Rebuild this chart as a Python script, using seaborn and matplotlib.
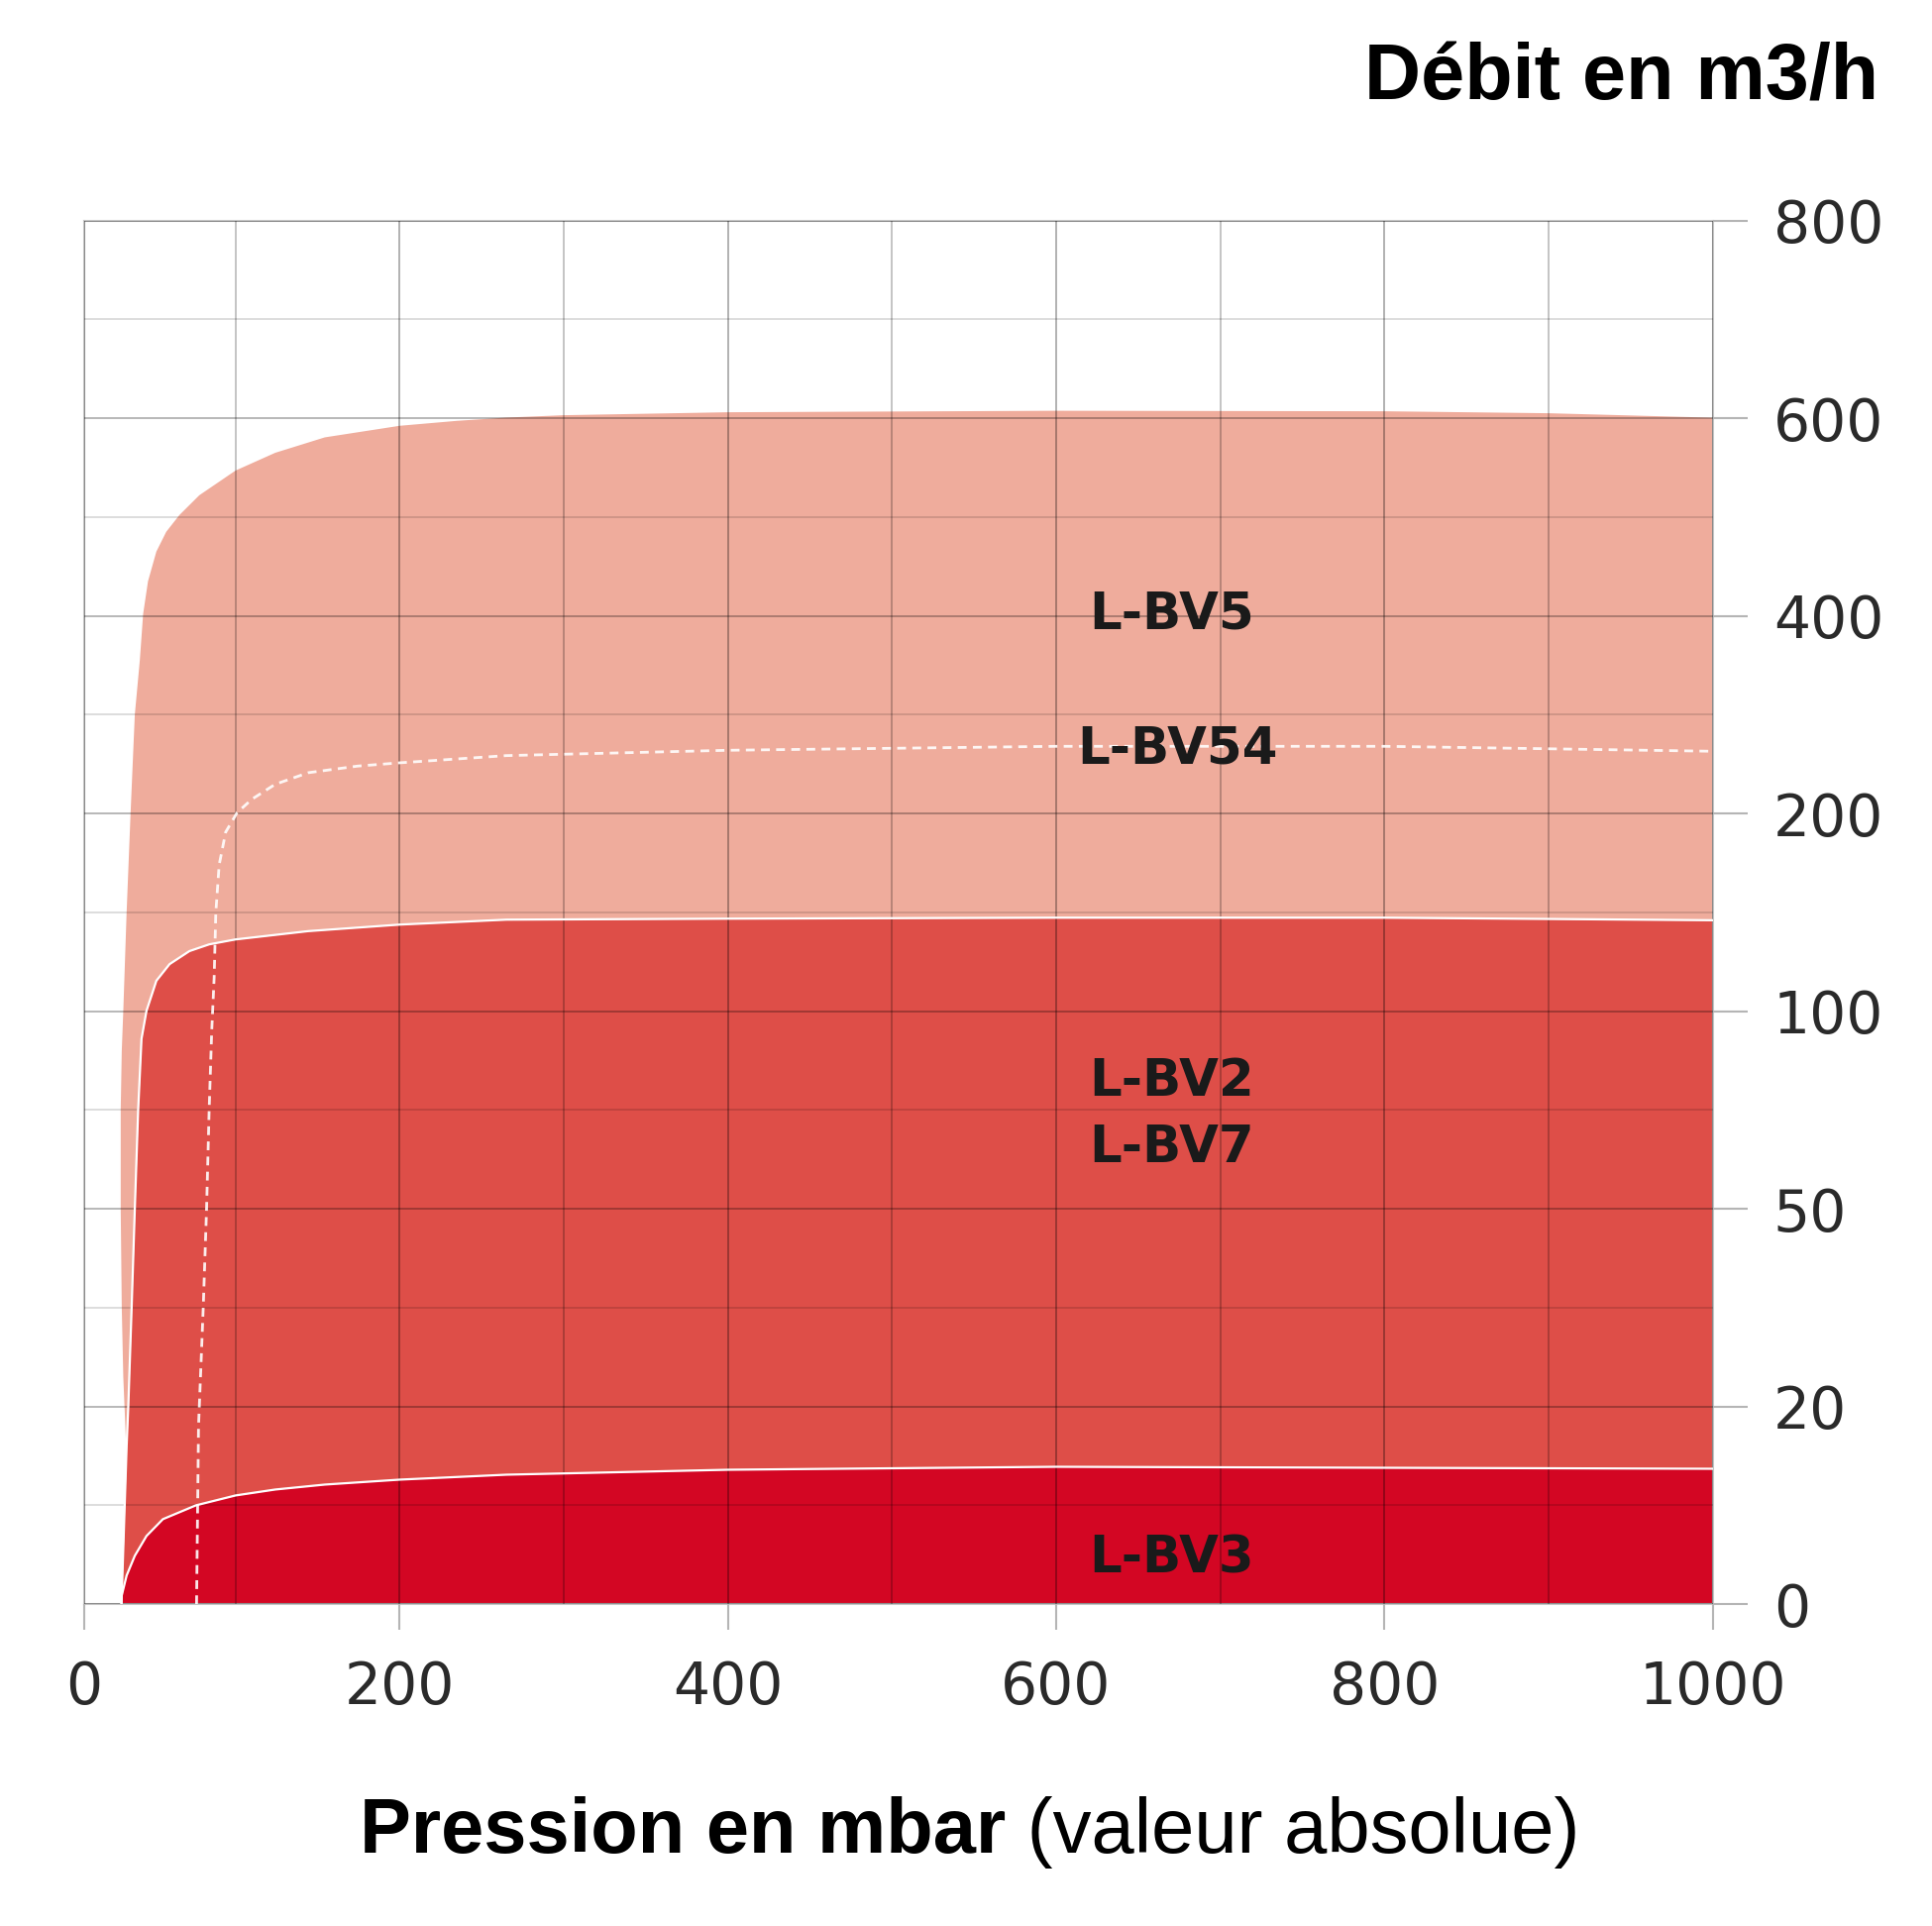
import numpy as np
import matplotlib
matplotlib.use("Agg")
import matplotlib.pyplot as plt
import seaborn as sns

# Pression (mbar) / debit (m3/h)
bv5_p = [29.5, 26.0, 25.0, 24.3, 24.3, 25.0, 26.0, 28.2, 30.8, 33.6, 36.9, 39.1, 42.3, 47.8, 54.3, 63.0,
         76.1, 100, 124.2, 154.4, 200, 234.8, 265, 300, 400, 600, 800, 900, 1000]
bv5_q = [10, 24.5, 35, 50, 75, 90, 100, 150, 200, 300, 355, 402, 435, 465, 485, 502,
         522, 547, 565, 580.6, 592.3, 597.3, 600.6, 603, 606, 607.5, 607, 605, 600.5]

bv2_p = [24.8, 28.2, 29.3, 31.5, 33.6, 35.8, 38.0, 41.3, 47.8, 56.5, 69.6, 82.6, 100, 144.3, 200, 265,
         400, 600, 800, 1000]
bv2_q = [0, 16, 20, 35, 50, 75, 93, 100.2, 115.4, 123.8, 130.4, 133.8, 136.3, 140.5, 143.8, 146.3,
         146.8, 147.3, 147.3, 146]

bv3_p = [24.8, 25.0, 28.2, 33.6, 41.3, 52.1, 73.9, 100, 124.2, 154.4, 200, 265, 400, 600, 800, 1000]
bv3_q = [0, 0.9, 2.9, 4.9, 6.9, 8.6, 10.0, 11.0, 11.6, 12.1, 12.6, 13.1, 13.6, 13.9, 13.8, 13.7]

bv54_p = [74.3, 75.6, 78.7, 80.9, 82.6, 84.3, 85.9, 87.0, 89.2, 93.5, 101, 110, 124.2, 144.3, 174.4,
          200, 265, 400, 600, 800, 1000]
bv54_q = [0, 18, 35, 50, 75, 95, 117, 150, 174, 190.6, 201, 214.5, 229.6, 241.3, 248,
          251.3, 258.6, 264, 268, 268, 263]

labels = ["L-BV5", "L-BV54", "L-BV2", "L-BV7", "L-BV3"]
label_p = [620, 613, 620, 620, 620]
label_q = [386.8, 250.8, 78.5, 61.7, 3.2]

x_ticks = [0, 200, 400, 600, 800, 1000]
y_ticks = [0, 20, 50, 100, 200, 400, 600, 800]

# echelles non lineaires du graphique
X_KNOTS = [0, 100, 1000]
X_POS = [0, 123.2, 1322.9]
Y_POS = list(range(len(y_ticks)))


def fwd_x(x):
    return np.interp(x, X_KNOTS, X_POS)


def inv_x(v):
    return np.interp(v, X_POS, X_KNOTS)


def fwd_y(y):
    return np.interp(y, y_ticks, Y_POS)


def inv_y(v):
    return np.interp(v, Y_POS, y_ticks)


sns.set_theme(style="white")
plt.rcParams["font.family"] = ["DejaVu Sans"]

fig = plt.figure(figsize=(19.5, 19.44), dpi=100)
ax = fig.add_axes([0.0434, 0.1671, 0.8431, 0.7184])
ax.set_xscale("function", functions=(fwd_x, inv_x))
ax.set_yscale("function", functions=(fwd_y, inv_y))
ax.set_xlim(0, 1000)
ax.set_ylim(0, 800)

# zones
ax.fill(bv5_p + [1000], bv5_q + [0], color="#EFAC9C", lw=0, zorder=1)
ax.fill_between(bv2_p, 0, bv2_q, color="#DE4E48", lw=0, zorder=1.1)
ax.fill_between(bv3_p, 0, bv3_q, color="#D30623", lw=0, zorder=1.2)

# contours blancs
sns.lineplot(x=bv2_p, y=bv2_q, color="white", lw=1.6, estimator=None, ax=ax, zorder=3)
sns.lineplot(x=bv3_p, y=bv3_q, color="white", lw=1.6, estimator=None, ax=ax, zorder=3)
sns.lineplot(x=bv54_p, y=bv54_q, color="white", lw=2.0, estimator=None, ax=ax, zorder=3.5, alpha=0.9)
ax.lines[-1].set_dashes((3.2, 2.3))

for lab, p, q in zip(labels, label_p, label_q):
    ax.text(p, q, lab, ha="left", va="baseline", fontsize=37, fontweight="bold",
            color="#1a1a1a", zorder=4)

# grille
ax.set_axisbelow(False)
ax.set_xticks(x_ticks)
ax.set_xticks([100, 300, 500, 700, 900], minor=True)
ax.set_yticks(y_ticks)
ax.set_yticks([inv_y(k + 0.5) for k in Y_POS[:-1]], minor=True)
ax.set_xticklabels([str(v) for v in x_ticks])
ax.set_yticklabels([str(v) for v in y_ticks])
ax.grid(which="major", axis="x", color="black", alpha=0.33, lw=1.3)
ax.grid(which="minor", axis="x", color="black", alpha=0.25, lw=1.3)
ax.grid(which="major", axis="y", color="black", alpha=0.3, lw=1.3)
ax.grid(which="minor", axis="y", color="black", alpha=0.15, lw=1.3)

for s in ax.spines.values():
    s.set_color("#c4c4c4")
    s.set_linewidth(1.5)

ax.yaxis.tick_right()
ax.tick_params(axis="y", which="major", right=True, left=False, length=25, width=1.5,
               color="#b5b5b5", pad=19, labelsize=42, labelcolor="#2a2a2a")
ax.tick_params(axis="x", which="major", bottom=True, length=19, width=1.5,
               color="#b5b5b5", pad=21, labelsize=42, labelcolor="#2a2a2a")
ax.tick_params(which="minor", length=0)

ax.set_xlabel("")
ax.set_ylabel("")

# titres
fig.text(0.9723, 0.9482, "Débit en m3/h", ha="right", va="baseline", fontsize=57,
         fontweight="bold", family="Liberation Sans", color="black")
t1 = fig.text(0.1862, 0.0381, "Pression en mbar", ha="left", va="baseline", fontsize=56,
              fontweight="bold", family="Liberation Sans", color="black")
ax.annotate(" (valeur absolue)", xy=(1, 0), xycoords=t1, ha="left", va="bottom",
            fontsize=56, family="Liberation Sans", color="black", annotation_clip=False)

fig.savefig("out.png", dpi=100)
